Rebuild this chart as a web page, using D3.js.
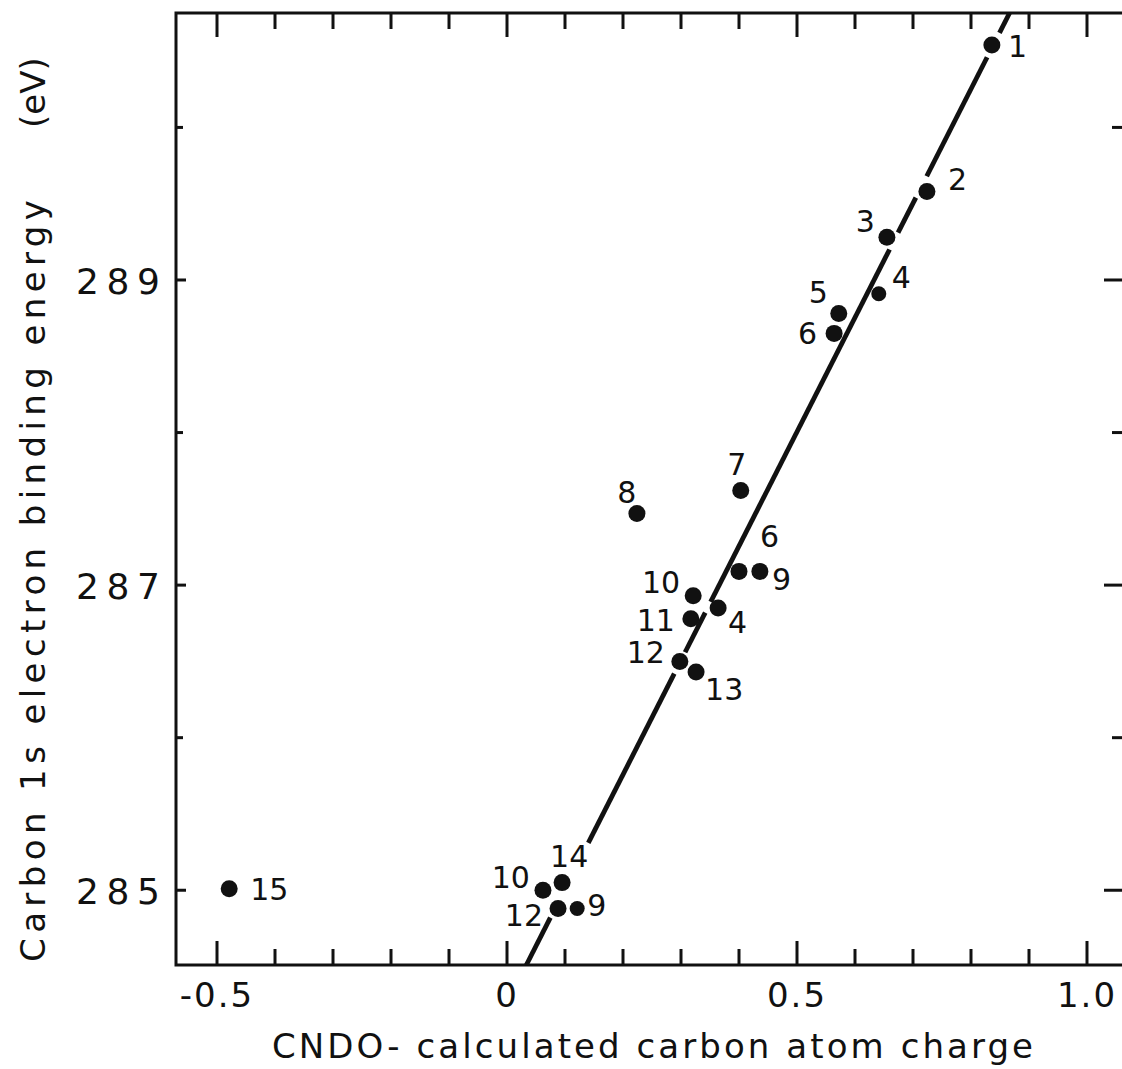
<!DOCTYPE html>
<html>
<head>
<meta charset="utf-8">
<script src="https://cdn.jsdelivr.net/npm/d3@7"></script>
<style>
  body { margin: 0; background: #fff; }
  svg { display: block; }
  text { font-family: "DejaVu Sans", sans-serif; fill: #111; }
</style>
</head>
<body>
<svg id="chart" width="1122" height="1069"></svg>
<script>
// Compound / carbon labels for each measured point
const pointLabels = ["1", "2", "3", "4", "5", "6", "7", "8", "6", "9",
                     "10", "11", "4", "12", "13", "14", "10", "12", "9", "15"];
// CNDO-calculated carbon atom charge
const charges = [0.836, 0.724, 0.655, 0.641, 0.572, 0.564, 0.403, 0.224, 0.400, 0.436,
                 0.321, 0.317, 0.364, 0.298, 0.326, 0.095, 0.062, 0.088, 0.121, -0.479];
// Carbon 1s electron binding energy (eV)
const bindingEnergies = [290.54, 289.58, 289.28, 288.91, 288.78, 288.65, 287.62, 287.47, 287.09, 287.09,
                         286.93, 286.78, 286.85, 286.50, 286.43, 285.05, 285.00, 284.88, 284.88, 285.01];

const xTickValues = [-0.5, 0, 0.5, 1.0];
const xTickLabels = ["-0.5", "0", "0.5", "1.0"];
const yTickValues = [285, 287, 289];
const yTickLabels = ["285", "287", "289"];

// Least-squares line E = a + b*q, interrupted where it meets points or labels
const fitIntercept = 284.26;
const fitSlope = 7.49;
const fitBreaks = [[284.82, 285.31], [286.42, 286.56], [286.82, 286.89],
                   [289.20, 289.31], [289.54, 289.68], [290.46, 290.62]];

// Label placement around each dot: [dx, dy, anchor]
const labelPlacement = [
  [16, 12, "start"], [21, -2, "start"], [-12, -5, "end"], [13, -6, "start"], [-11, -11, "end"],
  [-17, 11, "end"], [-4, -16, "middle"], [-10, -10, "middle"], [21, -24, "start"], [12, 19, "start"],
  [-13, -3, "end"], [-16, 12, "end"], [10, 25, "start"], [-15, 2, "end"], [9, 28, "start"],
  [-12, -16, "start"], [-13, -2, "end"], [-15, 17, "end"], [10, 7, "start"], [21, 11, "start"]
];
const smallDots = new Set([3, 18]);

const svg = d3.select("#chart");
const plotLeft = 176, plotRight = 1124, plotTop = 13, plotBottom = 965;

const x = d3.scaleLinear().domain([-0.5707, 1.0638]).range([plotLeft, plotRight]);
const y = d3.scaleLinear().domain([284.51, 290.75]).range([plotBottom, plotTop]);

const ink = "#111";

// Frame
svg.append("rect")
  .attr("x", plotLeft).attr("y", plotTop)
  .attr("width", plotRight - plotLeft).attr("height", plotBottom - plotTop)
  .attr("fill", "none").attr("stroke", ink).attr("stroke-width", 3);

// Inward ticks on top and bottom edges
const xMinor = d3.range(-5, 11).map(i => i / 10);
const isMajorX = v => Math.abs(v * 2 - Math.round(v * 2)) < 1e-6;
const tickG = svg.append("g").attr("stroke", ink).attr("stroke-width", 3);
xMinor.forEach(v => {
  const len = isMajorX(v) ? 24 : 16;
  tickG.append("line").attr("x1", x(v)).attr("x2", x(v)).attr("y1", plotTop).attr("y2", plotTop + len);
  tickG.append("line").attr("x1", x(v)).attr("x2", x(v)).attr("y1", plotBottom).attr("y2", plotBottom - len);
});

// Ticks on left and right edges
d3.range(285, 291).forEach(v => {
  const major = yTickValues.includes(v);
  tickG.append("line").attr("x1", plotRight).attr("x2", plotRight - (major ? 20 : 12))
    .attr("y1", y(v)).attr("y2", y(v));
  tickG.append("line").attr("x1", plotLeft).attr("x2", plotLeft + (major ? 10 : 7))
    .attr("y1", y(v)).attr("y2", y(v));
});

// Tick labels
svg.append("g").selectAll("text").data(xTickValues).join("text")
  .attr("x", d => x(d)).attr("y", 1007)
  .attr("text-anchor", "middle")
  .attr("font-size", 34)
  .attr("letter-spacing", 2)
  .text((d, i) => xTickLabels[i]);

svg.append("g").selectAll("text").data(yTickValues).join("text")
  .attr("x", 76).attr("y", d => y(d) + 14)
  .attr("font-size", 36)
  .attr("textLength", 84).attr("lengthAdjust", "spacing")
  .text((d, i) => yTickLabels[i]);

// Axis titles
svg.append("text")
  .attr("x", 272).attr("y", 1058)
  .attr("font-size", 34)
  .attr("textLength", 761).attr("lengthAdjust", "spacing")
  .text("CNDO- calculated carbon atom charge");

svg.append("text")
  .attr("transform", "translate(45,962) rotate(-90)")
  .attr("font-size", 34)
  .attr("textLength", 762).attr("lengthAdjust", "spacing")
  .text("Carbon 1s electron binding energy");

svg.append("text")
  .attr("transform", "translate(45,128) rotate(-90)")
  .attr("font-size", 34)
  .text("(eV)");

// Fit line drawn as segments between breaks
const yLo = y.domain()[0], yHi = y.domain()[1];
const segs = [];
let segStart = yLo;
fitBreaks.forEach(([a, b]) => { segs.push([segStart, a]); segStart = b; });
segs.push([segStart, yHi]);
const qOf = e => (e - fitIntercept) / fitSlope;
svg.append("g").selectAll("line").data(segs).join("line")
  .attr("x1", d => x(qOf(d[0]))).attr("y1", d => y(d[0]))
  .attr("x2", d => x(qOf(d[1]))).attr("y2", d => y(d[1]))
  .attr("stroke", ink).attr("stroke-width", 4.8);

// Points
const pts = charges.map((q, i) => ({ q, e: bindingEnergies[i], label: pointLabels[i], i }));
svg.append("g").selectAll("circle").data(pts).join("circle")
  .attr("cx", d => x(d.q)).attr("cy", d => y(d.e))
  .attr("r", d => smallDots.has(d.i) ? 7.5 : 8.5)
  .attr("fill", ink);

// Point labels
svg.append("g").selectAll("text").data(pts).join("text")
  .attr("x", d => x(d.q) + labelPlacement[d.i][0])
  .attr("y", d => y(d.e) + labelPlacement[d.i][1])
  .attr("text-anchor", d => labelPlacement[d.i][2])
  .attr("font-size", 30)
  .text(d => d.label);
</script>
</body>
</html>
